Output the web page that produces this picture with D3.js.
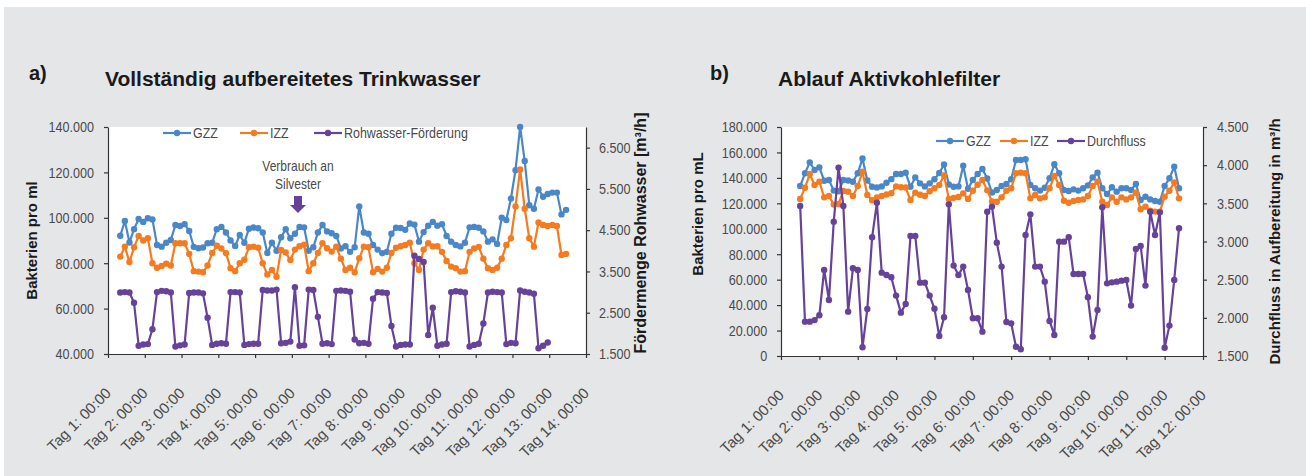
<!DOCTYPE html>
<html><head><meta charset="utf-8">
<script src="https://cdn.jsdelivr.net/npm/d3@7"></script>
<style>body{margin:0;background:#fff}svg{display:block}</style>
</head><body>
<svg id="c" width="1306" height="476"></svg>
<script>
// ---------- DATA ----------
// Chart a: samples every 3 h, starting Tag 1 08:00 (values in thousands / m³/h)
const startHourA = 8, startHourB = 12, stepHours = 3;
const tickLabelsA = ["Tag 1: 00:00","Tag 2: 00:00","Tag 3: 00:00","Tag 4: 00:00","Tag 5: 00:00","Tag 6: 00:00","Tag 7: 00:00","Tag 8: 00:00","Tag 9: 00:00","Tag 10: 00:00","Tag 11: 00:00","Tag 12: 00:00","Tag 13: 00:00","Tag 14: 00:00"];
const tickLabelsB = ["Tag 1: 00:00","Tag 2: 00:00","Tag 3: 00:00","Tag 4: 00:00","Tag 5: 00:00","Tag 6: 00:00","Tag 7: 00:00","Tag 8: 00:00","Tag 9: 00:00","Tag 10: 00:00","Tag 11: 00:00","Tag 12: 00:00"];
const leftTicksA = [40,60,80,100,120,140];
const rightTicksA = [1500,2500,3500,4500,5500,6500];
const leftTicksB = [0,20,40,60,80,100,120,140,160,180];
const rightTicksB = [1500,2000,2500,3000,3500,4000,4500];

const gzzA = [92.1,98.6,89.1,95,99.5,98.2,99.8,99.3,88,87.3,89,90.2,96.8,96.4,97.2,94.2,87.2,86.6,86.9,88.8,89,95,96,93.5,90,87.6,92.4,89,95.2,95.7,95.4,93.5,84.5,89,85.5,91.4,95,91,93,96,95.8,85.5,87,93.5,96.8,94,93.2,92,86.5,87.5,85,87,105,93.5,93,88,86,84.4,85,93,95.6,95.5,94.7,97.5,97,89.5,93.7,96.5,98.2,96.5,97.2,92,89.5,88,87.4,89,95.8,96,95.6,94,89.5,90.5,88.5,100,99,108.5,121,140,125,105.5,104,112.5,109.3,110.5,111.1,111.1,101.5,103.5];
const izzA = [82.9,87.3,80.5,87,92,90,91,80,78,78.8,79.8,79,88.8,88.8,88.8,84.1,76.5,76.3,76,79,84.5,87.7,86.5,84.4,77.8,76.5,80,81.5,87,87.3,86.8,80,75,77,74,85.8,84.7,81.4,86,87.5,88.1,76.5,80,84.5,88.8,86.6,85.1,87.3,82,77,78,76,82.2,87.3,87,76,77.5,76.3,78,84.5,86.8,87.5,88,89,80,77,86,88.8,87.4,87.5,85,81,78.5,77.8,76.3,76.5,85,86.5,87.2,82,77.8,77,78,82,88,91,105,121.3,104,91,87.3,97.9,96.8,96.4,96.8,96.4,83.6,84.1];
const rohA = [2990,3000,2990,2740,1700,1730,1740,2100,3000,3030,3020,2990,1680,1710,1730,2980,2990,2990,2970,2380,1720,1750,1760,1750,3000,3000,2990,1720,1740,1750,1750,3050,3040,3040,3060,1760,1770,1800,3120,1700,1710,3060,3050,2400,1750,1760,1740,3030,3040,3030,3010,1850,1760,1770,1750,2840,3000,2990,2980,2180,1680,1720,1730,1730,3880,3800,3730,1960,2620,1700,1730,1750,3000,3020,3010,2990,1680,1720,1750,2240,2990,3010,3000,2990,1740,1770,1760,3040,3010,2990,2960,1640,1700,1780];

// Chart b: samples every 3 h, starting Tag 1 12:00
const gzzB = [133.6,143.6,152.2,146.2,148.3,137.8,138.3,130,129.5,138.3,138,137,143.6,155.3,138,133,132.5,133.3,136.2,139,143,143,144,133,140.4,135.7,133.3,135.7,138.9,143.8,150.5,134.8,133,133.3,149.5,131.5,138.3,143,147,139.5,128.5,130.5,133.6,135.2,138.9,154.1,154.1,154.6,134.4,131.8,130,132.3,139.7,150.7,143.6,130.5,129.7,131,130,131.8,134.1,140.4,144.1,131.8,127.3,132.6,129.2,131.8,131.8,130.5,135.2,122.6,125.2,123.1,121.8,121.3,133.6,139.7,148.8,131.8];
const izzB = [123.4,132.3,143,134.4,137,124.7,125.8,119,119.5,129.7,129.2,125.8,133.6,144.9,126.6,122.5,124.7,125.8,127,128,133.3,132.6,132.4,122.6,128.4,126.8,125.8,129.5,131.8,134.4,142,123.5,124.3,125,127.8,123.5,129.9,134.6,138.3,130.2,121.5,121.3,124.7,129.9,131.8,143.6,144.1,143.6,123.9,126.6,123.9,124.7,131.8,141.5,134.4,122,120.5,121.8,122.6,123.1,125.8,133.6,137,121.3,118.7,124.7,121.3,124.7,123.1,124.7,128.4,115.3,117.4,114.2,113.5,113.5,125.2,129.9,136.5,123.9];
const durchB = [3465,1950,1950,1970,2033,2627,2234,3260,3968,3465,2081,2649,2627,1614,2116,3055,3509,2592,2561,2531,2291,2068,2181,3072,3072,2461,2461,2291,2120,1762,2007,3487,2684,2561,2671,2365,1994,1994,1819,3391,3457,2985,2671,1946,1928,1622,1588,3085,3356,2671,2671,2474,1959,1775,2998,2998,3055,2574,2574,2574,2269,1754,2103,3448,2452,2465,2474,2487,2496,2160,2902,2941,2422,3391,3085,3382,1609,1898,2496,3173];

// ---------- STYLE ----------
const C_BLUE = "#4a87c8", C_ORANGE = "#f47b20", C_PURPLE = "#67429b";
const SANS = "'Liberation Sans',Arial,sans-serif";
const AXIS = "#333", TXT = "#4a4a4a";

const svg = d3.select("#c");
svg.append("rect").attr("x",4).attr("y",7).attr("width",1302).attr("height",469).attr("fill","#e5e6e8");

const fmtDE = v => d3.format(",")(Math.round(v)).replace(/,/g,".");
const dayOf = (start, i) => (start + i*stepHours)/24;

// squeeze glyphs horizontally to imitate a condensed face
function condense(sel, f){
  sel.each(function(){
    const n = this.getComputedTextLength();
    d3.select(this).attr("textLength", n*f).attr("lengthAdjust","spacingAndGlyphs");
  });
}

function styleAxis(g){
  g.attr("font-family", SANS).attr("font-size", 15);
  g.select(".domain").attr("stroke", AXIS).attr("stroke-width",1.2);
  g.selectAll(".tick line").attr("stroke", AXIS).attr("stroke-width",1.2);
  g.selectAll(".tick text").attr("fill", TXT).call(condense, 0.84);
}

function drawChart(o){
  const x = d3.scaleLinear().domain([0, o.tickLabels.length-1]).range([o.x0, o.x1]);
  const y = d3.scaleLinear().domain(o.yDom).range([o.y1, o.y0]);
  const y2 = d3.scaleLinear().domain(o.y2Dom).range([o.y1, o.y0]);
  const g = svg.append("g");
  g.append("rect").attr("x",o.x0).attr("y",o.y0).attr("width",o.x1-o.x0).attr("height",o.y1-o.y0).attr("fill","#fff");

  g.append("g").attr("transform",`translate(${o.x0},0)`)
    .call(d3.axisLeft(y).tickValues(o.leftTicks).tickFormat(v=>fmtDE(v*1000)).tickSize(4).tickSizeOuter(0).tickPadding(o.padL))
    .call(styleAxis);
  g.append("g").attr("transform",`translate(${o.x1},0)`)
    .call(d3.axisRight(y2).tickValues(o.rightTicks).tickFormat(fmtDE).tickSize(4).tickSizeOuter(0).tickPadding(o.padR))
    .call(styleAxis);
  g.append("g").attr("transform",`translate(0,${o.y1})`)
    .call(d3.axisBottom(x).tickValues(d3.range(o.tickLabels.length)).tickFormat("").tickSize(4).tickSizeOuter(0))
    .call(styleAxis);
  g.append("g").selectAll("text").data(o.tickLabels).join("text")
    .attr("transform",(d,i)=>`translate(${x(i)+4},${o.y1+40}) rotate(-45)`)
    .attr("text-anchor","end").attr("font-family",SANS).attr("font-size",15).attr("fill",TXT)
    .text(d=>d);

  const series = [
    {vals:o.s1, col:C_BLUE, sc:y},
    {vals:o.s2, col:C_ORANGE, sc:y},
    {vals:o.s3, col:C_PURPLE, sc:y2}
  ];
  series.forEach(s=>{
    const pts = s.vals.map((v,i)=>[x(dayOf(o.start,i)), s.sc(v)]);
    g.append("path").attr("d", d3.line()(pts)).attr("fill","none").attr("stroke",s.col).attr("stroke-width",2.2).attr("stroke-linejoin","round");
    g.append("g").selectAll("circle").data(pts).join("circle")
      .attr("cx",d=>d[0]).attr("cy",d=>d[1]).attr("r",3.2).attr("fill",s.col);
  });

  // legend
  o.legend.forEach((L,k)=>{
    const col = [C_BLUE,C_ORANGE,C_PURPLE][k];
    g.append("line").attr("x1",L.x).attr("x2",L.x+28).attr("y1",o.legY).attr("y2",o.legY).attr("stroke",col).attr("stroke-width",2.2);
    g.append("circle").attr("cx",L.x+14).attr("cy",o.legY).attr("r",3.2).attr("fill",col);
    g.append("text").attr("x",L.x+30).attr("y",o.legY).attr("dy","0.36em").attr("font-family",SANS).attr("font-size",15).attr("fill",TXT).text(L.t).call(condense,0.83);
  });

  // axis titles
  g.append("text").attr("transform",`translate(${o.tL[0]},${o.tL[1]}) rotate(-90)`).attr("text-anchor","middle")
    .attr("font-family",SANS).attr("font-weight","bold").attr("font-size",15).attr("fill","#1a1a1a").text(o.titleL);
  g.append("text").attr("transform",`translate(${o.tR[0]},${o.tR[1]}) rotate(-90)`).attr("text-anchor","middle")
    .attr("font-family",SANS).attr("font-weight","bold").attr("font-size",o.tRsize).attr("fill","#1a1a1a").text(o.titleR);
  // chart title
  g.append("text").attr("x",o.letterX).attr("y",80).attr("font-family",SANS).attr("font-weight","bold").attr("font-size",20).attr("fill","#1a1a1a").text(o.letter);
  g.append("text").attr("x",o.x0-3).attr("y",86).attr("font-family",SANS).attr("font-weight","bold").attr("font-size",21).attr("fill","#1a1a1a").text(o.title);
  return {x,y,y2,g};
}

const A = drawChart({
  x0:108, x1:586, y0:127, y1:354, yDom:[40,140], y2Dom:[1500,7000],
  leftTicks:leftTicksA, rightTicks:rightTicksA, tickLabels:tickLabelsA, padL:10, padR:9,
  s1:gzzA, s2:izzA, s3:rohA, start:startHourA,
  legY:133, legend:[{x:163,t:"GZZ"},{x:240,t:"IZZ"},{x:314,t:"Rohwasser-Förderung"}],
  tL:[37,240.5], tR:[646,233], tRsize:16, titleL:"Bakterien pro ml", titleR:"Fördermenge Rohwasser [m³/h]",
  letter:"a)", letterX:29, title:"Vollständig aufbereitetes Trinkwasser"
});
const B = drawChart({
  x0:781, x1:1203, y0:127, y1:356, yDom:[0,180], y2Dom:[1500,4500],
  leftTicks:leftTicksB, rightTicks:rightTicksB, tickLabels:tickLabelsB, padL:9.7, padR:10,
  s1:gzzB, s2:izzB, s3:durchB, start:startHourB,
  legY:141, legend:[{x:936,t:"GZZ"},{x:1000,t:"IZZ"},{x:1057,t:"Durchfluss"}],
  tL:[703,214], tR:[1280,241.5], tRsize:15, titleL:"Bakterien pro mL", titleR:"Durchfluss in Aufbereitung in m³/h",
  letter:"b)", letterX:710, title:"Ablauf Aktivkohlefilter"
});

// annotation
[["Verbrauch an",171],["Silvester",189]].forEach(([t,yy])=>{
  A.g.append("text").attr("x",298).attr("y",yy).attr("text-anchor","middle").attr("font-family",SANS).attr("font-size",15).attr("fill",TXT).text(t).call(condense,0.8);
});
A.g.append("path").attr("d","M294,196 L302,196 L302,205 L306,205 L298,213 L290,205 L294,205 Z").attr("fill",C_PURPLE);
</script>
</body></html>
